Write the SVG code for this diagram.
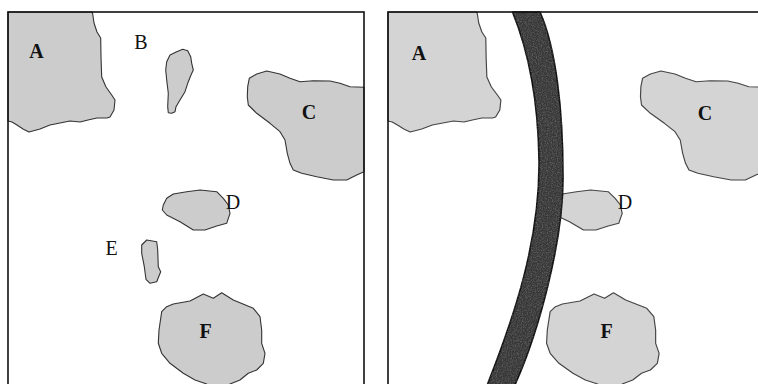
<svg xmlns="http://www.w3.org/2000/svg" xmlns:xlink="http://www.w3.org/1999/xlink" width="758" height="384" viewBox="0 0 758 384">
<style>
.frame{fill:none;stroke:#111;stroke-width:1.6}
.blobL{fill:#cccccc;stroke:#333;stroke-width:1.1;stroke-linejoin:round}
.blobR{fill:#d4d4d4;stroke:#444;stroke-width:1.1;stroke-linejoin:round}
.lbl{font-family:"Liberation Serif","Times New Roman",serif;font-size:20px;fill:#111;text-anchor:middle}
.b{font-weight:bold}
</style>
<defs>
<path id="pA" d="M8,12 L92,12 L92.7,14 L94,23 L97,32 L100.7,38 L101,57 L101.7,77 L106,87 L111.7,95 L115,100 L114,110 L110,117 L107,118 L97,118 L88,120 L80,122 L70,121 L60,123 L50,125 L40,129 L29,132 L23,129 L17,125 L12,122 L8,121 Z"/>
<path id="pB" d="M166.7,61.7 L170,55 L176.7,51.7 L182.7,49.3 L187.7,50.7 L190.7,56.7 L191.7,63.3 L193.3,70 L191,75 L188.3,81.7 L185,91.7 L180,100 L176,106.7 L175,111.7 L171.7,113.3 L168.3,112.7 L167.7,106.7 L168.3,93.3 L166.7,80 L165.7,70 Z"/>
<path id="pC" d="M364,87.3 L350,86.7 L340,83.3 L330,81 L313.3,80.7 L300,81.7 L290,78.3 L280,74 L266.7,71 L256.7,74 L249.3,78.3 L247.7,86.7 L247.3,96.7 L248.3,105 L256.7,113.3 L270,123.3 L280,131.7 L285,140 L287.3,153.3 L290,163.3 L293.3,170 L301.7,173.3 L316.7,176.7 L333.3,180 L346.7,180 L356.7,175 L364,171.7 Z"/>
<path id="pD" d="M163.3,205 L166.7,198.3 L173.3,194 L186.7,191.7 L200,190 L216.7,191.7 L223.3,198.3 L228.3,205 L230,213.3 L226.7,223.3 L216.7,226 L205,230 L193.3,230 L180,221.7 L166.7,215 L162.3,210 Z"/>
<path id="pE" d="M141.7,245 L146.7,240 L156.7,241.7 L157.7,250 L158.3,266.7 L160.7,271.7 L156.7,281.7 L150,283.3 L146,279.3 L144.3,266.7 L141.7,253.3 Z"/>
<path id="pF" d="M161.7,311.7 L166.7,306.7 L173.3,304 L190,301 L203.3,294 L213.3,298.3 L221.7,292.7 L233.3,300 L253.3,308.3 L260,316.7 L261.7,330 L261.7,343.3 L265,353.3 L263.3,363.3 L256.7,370 L248.3,373.3 L240,380 L230,384 L225,392 L210,392 L206.7,384 L195,380 L183.3,373.3 L170,363.3 L161.7,353.3 L158.3,343.3 L159,330 Z"/>
<filter id="grain" x="0" y="0" width="1" height="1">
<feTurbulence type="fractalNoise" baseFrequency="0.8" numOctaves="2" seed="4" result="n"/>
<feColorMatrix in="n" type="matrix" values="0 0 0 0 0.45  0 0 0 0 0.45  0 0 0 0 0.45  1.4 0 0 0 -0.55" result="c"/>
<feComposite in="c" in2="SourceGraphic" operator="in"/>
</filter>
</defs>

<g id="left-panel">
  <g id="A-left"><use xlink:href="#pA" class="blobL"/><text class="lbl b" x="36.5" y="58">A</text></g>
  <g id="B-left"><use xlink:href="#pB" class="blobL"/><text class="lbl" x="141" y="49">B</text></g>
  <g id="C-left"><use xlink:href="#pC" class="blobL"/><text class="lbl b" x="309" y="119">C</text></g>
  <g id="D-left"><use xlink:href="#pD" class="blobL"/><text class="lbl" x="233" y="209">D</text></g>
  <g id="E-left"><use xlink:href="#pE" class="blobL"/><text class="lbl" x="111.5" y="255">E</text></g>
  <g id="F-left"><use xlink:href="#pF" class="blobL"/><text class="lbl b" x="205.5" y="338">F</text></g>
  <rect class="frame" x="8" y="12" width="356" height="400"/>
</g>

<g id="right-panel">
  <g transform="translate(388,0) scale(1.055,1) translate(-8,0)">
    <use xlink:href="#pA" class="blobR"/>
    <use xlink:href="#pC" class="blobR"/>
    <use xlink:href="#pD" class="blobR"/>
    <use xlink:href="#pF" class="blobR"/>
  </g>
  <g id="band">
    <path id="bandPath" d="M512.5,12 C526,45 538,90 539,160 C540,240 515,315 486,388 L513.5,388 C538,335 564,240 563,175 C563,110 556,48 540,12 Z" fill="#373737" stroke="#0d0d0d" stroke-width="1.6" stroke-linejoin="round"/>
    <use xlink:href="#bandPath" fill="#000" stroke="none" filter="url(#grain)" opacity="0.55"/>
  </g>
  <text class="lbl b" x="419" y="60">A</text>
  <text class="lbl b" x="705" y="120">C</text>
  <text class="lbl" x="625" y="209">D</text>
  <text class="lbl b" x="606.5" y="338">F</text>
  <rect class="frame" x="388" y="12" width="400" height="400"/>
</g>
</svg>
